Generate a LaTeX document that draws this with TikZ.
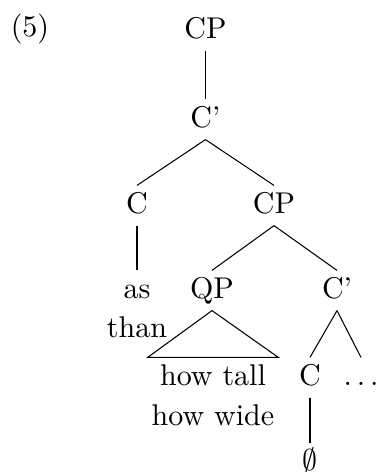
\documentclass[tikz,border=0pt]{standalone}
\usetikzlibrary{calc}
\begin{document}
\begin{tikzpicture}[x=0.3333pt,y=-0.3333pt,
  lbl/.style={anchor=base, inner sep=2pt, text height=7pt, text depth=2pt, font=\fontsize{10}{12}\selectfont},
  edge/.style={line width=0.35pt}]
\useasboundingbox (0,0) rectangle (379,472);
\node[lbl] (ex) at (30,36) {(5)};
\node[lbl] (cp) at (205.5,38) {CP};
\node[lbl] (cb) at (205.5,127) {C'};
\node[lbl] (c) at (137,213) {C};
\node[lbl] (cp2) at (274,213) {CP};
\node[lbl] (as) at (137,298) {as};
\node[lbl] (than) at (137,337) {than};
\node[lbl] (qp) at (212,298) {QP};
\node[lbl] (cb2) at (337,298) {C'};
\node[lbl] (tall) at (213,385) {how tall};
\node[lbl] (wide) at (213,425) {how wide};
\node[lbl] (c3) at (310,385) {C};
\node[lbl] (dots) at (361,385) {$\ldots$};
\node[lbl] (empty) at (310,470.5) {$\emptyset$};
\draw[edge] (cp.south) -- (cb.north);
\draw[edge] (cb.south) -- (c.north);
\draw[edge] (cb.south) -- (cp2.north);
\draw[edge] (c.south) -- (as.north);
\draw[edge] (cp2.south) -- (qp.north);
\draw[edge] (cp2.south) -- (cb2.north);
\draw[edge] (qp.south) -- ($(tall.north -| wide.west)+(2.5,0)$) -- ($(tall.north -| wide.east)+(-2.5,0)$) -- cycle;
\draw[edge] (cb2.south) -- (c3.north);
\draw[edge] (cb2.south) -- (dots.north);
\draw[edge] (c3.south) -- (empty.north);
\end{tikzpicture}
\end{document}
